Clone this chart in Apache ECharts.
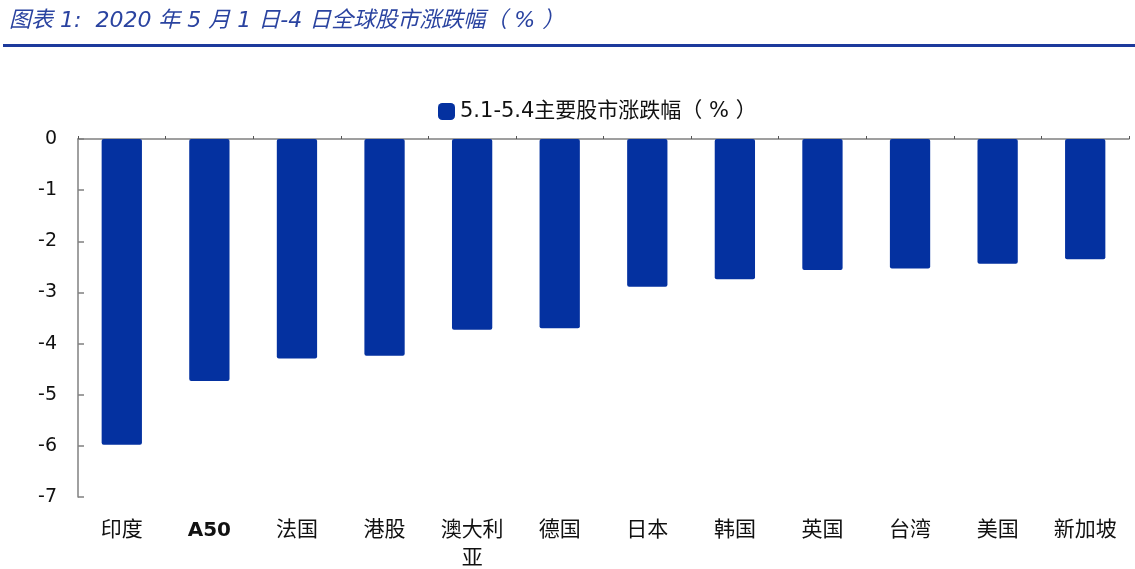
<!DOCTYPE html>
<html>
<head>
<meta charset="utf-8">
<script src="https://cdn.jsdelivr.net/npm/echarts@6/dist/echarts.min.js"></script>
<style>
html,body{margin:0;padding:0;background:#fff;}
#main{width:1135px;height:569px;}
</style>
</head>
<body>
<div id="main"></div>
<script>
var titleText = '图表 1:  2020 年 5 月 1 日-4 日全球股市涨跌幅（ % ）';
var seriesName = '5.1-5.4主要股市涨跌幅（ % ）';
var categories = ['印度', 'A50', '法国', '港股', '澳大利\n亚', '德国', '日本', '韩国', '英国', '台湾', '美国', '新加坡'];
var values = [-5.98, -4.73, -4.29, -4.24, -3.73, -3.70, -2.89, -2.74, -2.56, -2.53, -2.44, -2.35];
var yMin = -7, yMax = 0, yStep = 1;

var chart = echarts.init(document.getElementById('main'), null, {renderer: 'canvas'});
var fontCJK = '"DejaVu Sans", "Noto Sans CJK SC", sans-serif';

chart.setOption({
  animation: false,
  backgroundColor: '#fff',
  graphic: [
    {
      type: 'text', left: 9, top: 10,
      style: {
        text: titleText,
        fontSize: 22, fontStyle: 'italic',
        fontFamily: fontCJK,
        fill: '#2a43a0'
      }
    },
    {
      type: 'rect', shape: {x: 3, y: 44, width: 1132, height: 3},
      style: {fill: '#1c3a9c'}
    }
  ],
  legend: {
    data: [seriesName],
    left: 433, top: 96,
    itemWidth: 17, itemHeight: 17, itemGap: 3,
    icon: 'roundRect',
    textStyle: {fontSize: 21, color: '#111', fontFamily: fontCJK}
  },
  grid: {left: 78, right: 6, top: 139, bottom: 72, containLabel: false, outerBoundsMode: 'none'},
  xAxis: [
    {
      type: 'category', data: categories, position: 'bottom',
      axisLine: {show: false}, axisTick: {show: false},
      axisLabel: {
        margin: 20, fontSize: 21, color: '#111', lineHeight: 28,
        fontFamily: fontCJK, interval: 0,
        formatter: function (v) { return v === 'A50' ? '{b|A50}' : v; },
        rich: {b: {fontSize: 20, fontWeight: 'bold', color: '#111', fontFamily: '"DejaVu Sans", sans-serif'}}
      }
    },
    {
      type: 'category', data: categories, position: 'top',
      axisLine: {show: true, lineStyle: {color: '#808080', width: 1.5}},
      axisTick: {show: true, alignWithLabel: false, length: 3, lineStyle: {color: '#555'}},
      axisLabel: {show: false}
    }
  ],
  yAxis: {
    type: 'value', min: yMin, max: yMax, interval: yStep,
    axisLine: {show: true, lineStyle: {color: '#808080', width: 1.5}},
    axisTick: {show: true, inside: true, length: 6, lineStyle: {color: '#808080', width: 1.5}},
    splitLine: {show: false},
    axisLabel: {fontSize: 19, color: '#111', margin: 21, fontFamily: '"DejaVu Sans", sans-serif'}
  },
  series: [{
    name: seriesName,
    type: 'bar',
    xAxisIndex: 0,
    data: values,
    barWidth: '46%',
    itemStyle: {color: '#0431a0', borderRadius: 2}
  }]
});
</script>
</body>
</html>
